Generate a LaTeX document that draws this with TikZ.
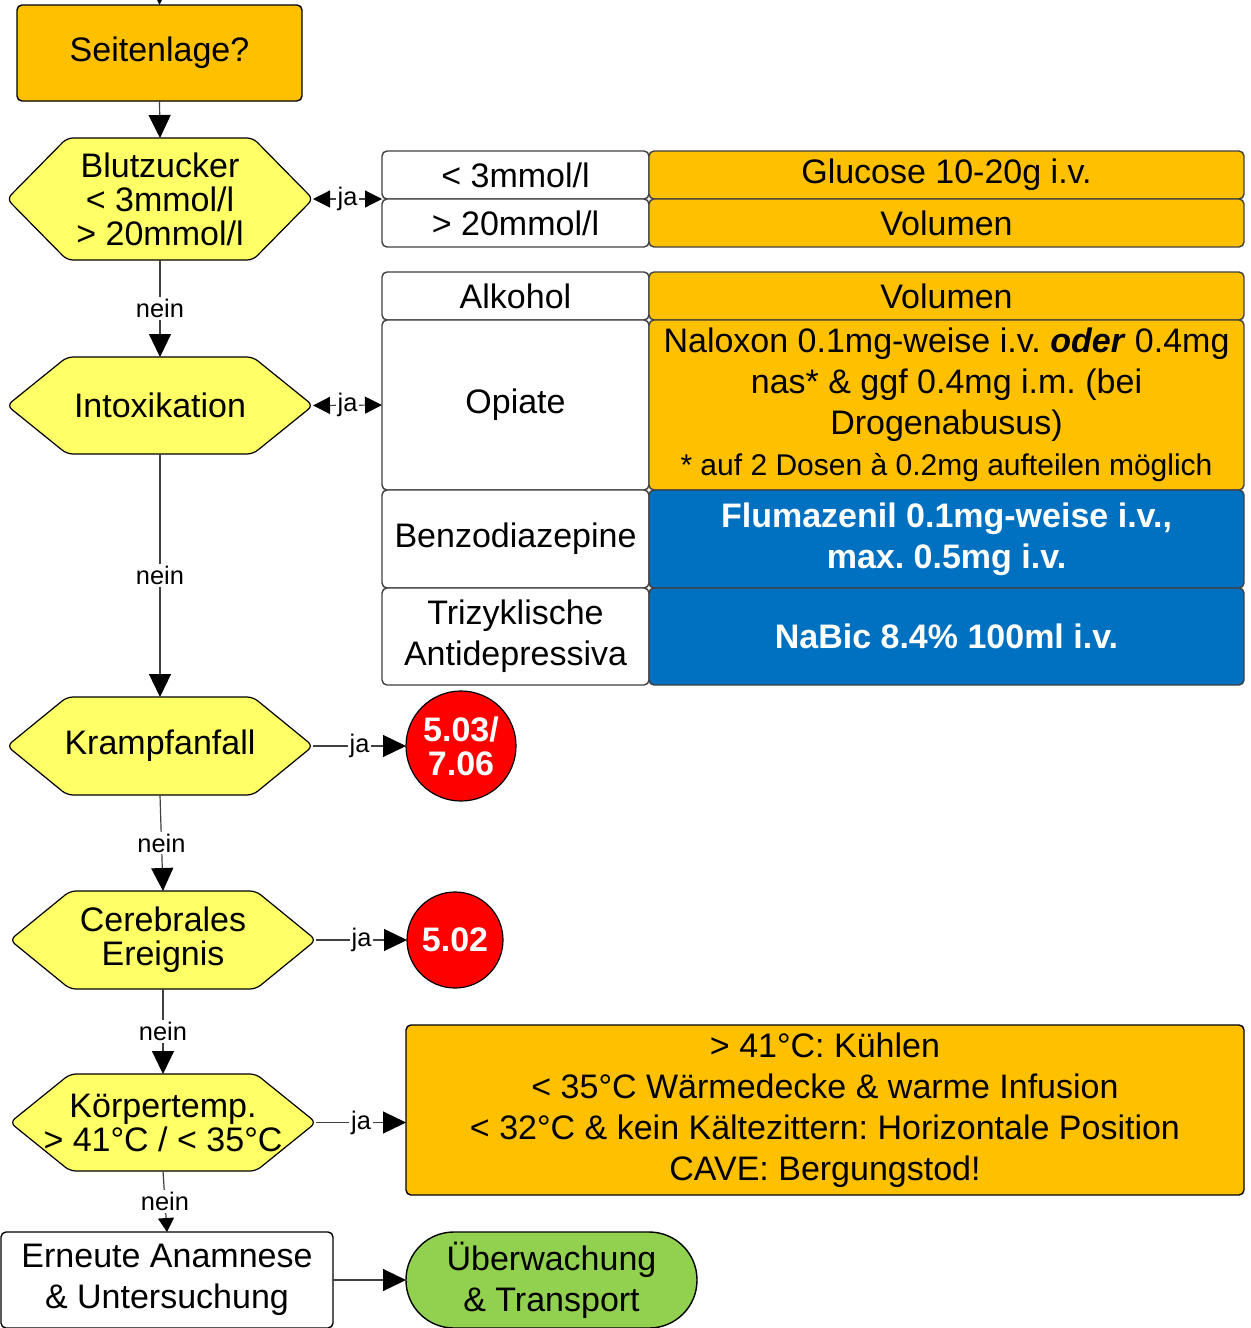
\documentclass[tikz,border=0pt]{standalone}
\usepackage{fontspec}
\setmainfont{Liberation Sans}
\usetikzlibrary{arrows.meta}
\frenchspacing

\pgfdeclarelayer{paper}
\pgfdeclarelayer{background}
\pgfsetlayers{paper,background,main}

\definecolor{amber}{HTML}{FFC000}
\definecolor{lemon}{HTML}{FFFF66}
\definecolor{medblue}{HTML}{0070C0}
\definecolor{alarm}{HTML}{FF0000}
\definecolor{leaf}{HTML}{92D050}
\definecolor{edge}{HTML}{404040}

% hexagonal decision outline drawn behind a named node
\newcommand\hexoutline[1]{%
  \begin{pgfonlayer}{background}
    \draw[hexline] (#1.west) -- ([xshift=30pt]#1.north west) -- ([xshift=-30pt]#1.north east)
      -- (#1.east) -- ([xshift=-30pt]#1.south east) -- ([xshift=30pt]#1.south west) -- cycle;
  \end{pgfonlayer}}

\begin{document}
\begin{tikzpicture}[x=0.5pt, y=-0.5pt,
  font=\fontsize{17}{20.5}\selectfont,
  base/.style={draw=black, line width=0.7pt, rounded corners=2.5pt, inner sep=0pt, outer sep=0pt, align=center},
  amberbox/.style={base, fill=amber},
  cellL/.style={base, draw=edge, fill=white, minimum width=133.5pt},
  cellR/.style={base, draw=edge, minimum width=297.5pt},
  bluecell/.style={cellR, fill=medblue, text=white, font=\bfseries\fontsize{17}{20.5}\selectfont},
  hexnode/.style={inner sep=0pt, outer sep=0pt, minimum width=153pt, align=center, font=\fontsize{17}{17}\selectfont},
  hexline/.style={draw=black, line width=0.6pt, fill=lemon, rounded corners=3pt},
  badge/.style={circle, draw=black, line width=0.6pt, fill=alarm, text=white, inner sep=0pt, outer sep=0pt, align=center, font=\bfseries\fontsize{17}{17}\selectfont},
  conn/.style={draw=edge, line width=0.6pt},
  tip/.style={-{Triangle[length=11.5pt,width=11pt,color=black]}},
  smalltip/.style={-{Triangle[length=7pt,width=8pt,color=black]}},
  bothtips/.style={{Triangle[length=8.5pt,width=8.5pt,color=black]}-{Triangle[length=8.5pt,width=8.5pt,color=black]}},
  lbl/.style={fill=white, inner sep=1pt, text=black, font=\fontsize{12.7}{14}\selectfont},
]
\begin{pgfonlayer}{paper}
  \fill[white] (0,0) rectangle (1250,1328);
\end{pgfonlayer}
\useasboundingbox (0,0) rectangle (1250,1328);

% main decision column
\node[amberbox, minimum width=142.5pt, minimum height=48pt] (seit) at (159.5,53) {Seitenlage?};

\node[hexnode, minimum height=61pt] (bz) at (160,199) {Blutzucker\\< 3mmol/l\\> 20mmol/l};
\hexoutline{bz}
\node[hexnode, minimum height=48.5pt] (ix) at (160,405.5) {Intoxikation};
\hexoutline{ix}
\node[hexnode, minimum height=49pt] (kf) at (160,746) {Krampfanfall};
\hexoutline{kf}
\node[hexnode, minimum height=49pt] (ce) at (163,940) {Cerebrales\\Ereignis};
\hexoutline{ce}
\node[hexnode, minimum height=48.5pt] (kt) at (163,1122.5) {Körpertemp.\\> 41°C / < 35°C};
\hexoutline{kt}

% blood sugar table
\node[cellL, minimum height=24pt] (l1) at (515.5,175) {< 3mmol/l};
\node[cellR, fill=amber, minimum height=24pt] (r1) at (946.5,175) {Glucose 10-20g i.v.};
\node[cellL, minimum height=24pt] (l2) at (515.5,223) {> 20mmol/l};
\node[cellR, fill=amber, minimum height=24pt] (r2) at (946.5,223) {Volumen};

% intoxication table
\node[cellL, minimum height=24pt] (l3) at (515.5,296) {Alkohol};
\node[cellR, fill=amber, minimum height=24pt] (r3) at (946.5,296) {Volumen};
\node[cellL, minimum height=85pt] (l4) at (515.5,405) {Opiate};
\node[cellR, fill=amber, minimum height=85pt] (r4) at (946.5,405)
  {Naloxon 0.1mg-weise i.v. \textbf{\textit{oder}} 0.4mg\\
   nas* \& ggf 0.4mg i.m. (bei\\
   Drogenabusus)\\
   {\fontsize{15}{20.5}\selectfont * auf 2 Dosen à 0.2mg aufteilen möglich}};
\node[cellL, minimum height=49pt] (l5) at (515.5,539) {Benzodiazepine};
\node[bluecell, minimum height=49pt] (r5) at (946.5,539) {Flumazenil 0.1mg-weise i.v.,\\max. 0.5mg i.v.};
\node[cellL, minimum height=48.5pt] (l6) at (515.5,636.5) {Trizyklische\\Antidepressiva};
\node[bluecell, minimum height=48.5pt] (r6) at (946.5,636.5) {NaBic 8.4\% 100ml i.v.};

% referral circles
\node[badge, minimum size=55pt] (c1) at (461,746) {5.03/\\7.06};
\node[badge, minimum size=48pt] (c2) at (455,940) {5.02};

% temperature measures
\node[amberbox, minimum width=419pt, minimum height=85pt] (tb) at (825,1110)
  {> 41°C: Kühlen\\
   < 35°C Wärmedecke \& warme Infusion\\
   < 32°C \& kein Kältezittern: Horizontale Position\\
   CAVE: Bergungstod!};

% final steps
\node[base, fill=white, minimum width=166pt, minimum height=48pt] (er) at (167,1280) {Erneute Anamnese\\\& Untersuchung};
\node[base, fill=leaf, rounded corners=23.9pt, minimum width=145.5pt, minimum height=48pt] (ue) at (551.5,1280) {Überwachung\\\& Transport};

% connectors
\coordinate (entry) at (160,-40);
\draw[conn,tip] (entry) -- (seit.north);
\draw[conn,tip] (seit.south) -- (bz.north);
\draw[conn,bothtips] (bz.east) -- node[lbl]{ja} (l1.south west);
\draw[conn,tip] (bz.south) -- node[lbl]{nein} (ix.north);
\draw[conn,bothtips] (ix.east) -- node[lbl]{ja} (l4.west);
\draw[conn,tip] (ix.south) -- node[lbl]{nein} (kf.north);
\draw[conn,tip] (kf.east) -- node[lbl]{ja} (c1.west);
\draw[conn,tip] (kf.south) -- node[lbl]{nein} (ce.north);
\draw[conn,tip] (ce.east) -- node[lbl]{ja} (c2.west);
\draw[conn,tip] (ce.south) -- node[lbl]{nein} (kt.north);
\draw[conn,tip] (kt.east) -- node[lbl]{ja} (kt.east -| tb.west);
\draw[conn,smalltip] (kt.south) -- node[lbl]{nein} (er.north);
\draw[conn,tip] (er.east) -- (ue.west);
\end{tikzpicture}
\end{document}
